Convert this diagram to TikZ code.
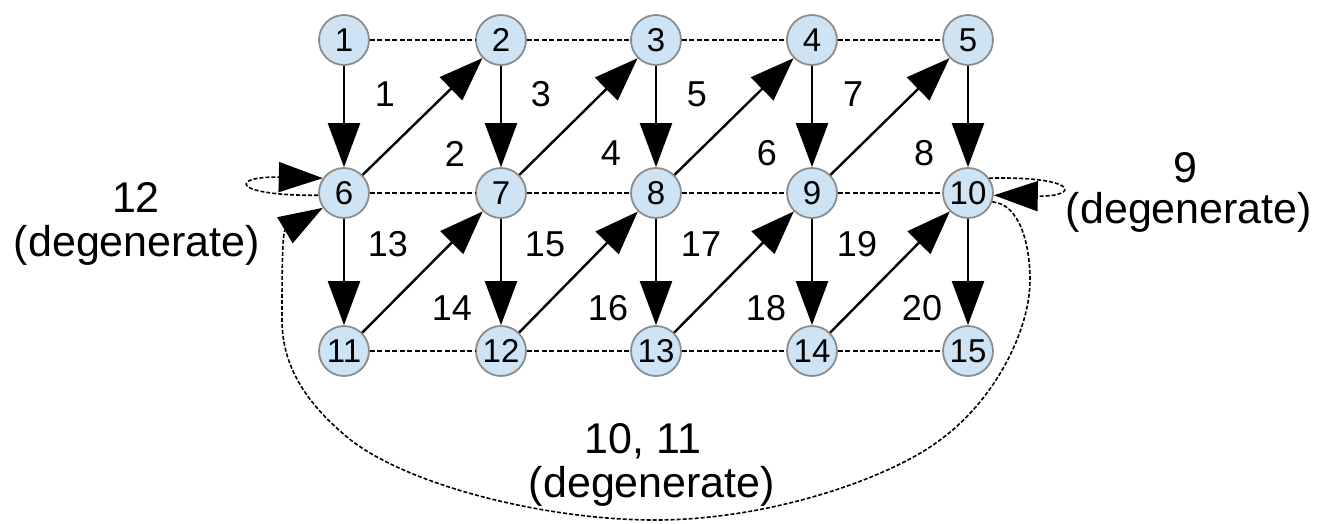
\documentclass[tikz,border=0pt]{standalone}
\usepackage{fontspec}
\setmainfont{Liberation Sans}
\usetikzlibrary{arrows.meta}
\definecolor{nodefill}{RGB}{206,228,244}
\definecolor{nodeline}{RGB}{140,140,140}

\begin{document}
\begin{tikzpicture}[x=1pt,y=-1pt,
  vertex/.style={circle, draw=nodeline, line width=1.8pt, fill=nodefill,
    minimum size=50pt, inner sep=0pt, font=\fontsize{33}{33}\selectfont},
  edgelabel/.style={inner sep=0pt, font=\fontsize{36}{36}\selectfont},
  note/.style={inner sep=0pt, anchor=base, font=\fontsize{43}{43}\selectfont},
  tip/.style={-{Triangle[length=44pt,width=32pt]}},
  flow/.style={tip, line width=2.4pt},
  link/.style={line width=1.6pt, dash pattern=on 5pt off 2.5pt},
  degen/.style={-{Triangle[length=44pt,width=30pt]}, line width=1.6pt, dash pattern=on 4pt off 2pt},
]
\useasboundingbox (0,0) rectangle (1333,523);

% grid of vertices
\foreach \i/\x in {1/344,2/501,3/656,4/812,5/968} {
  \node[vertex] (n\i) at (\x,40) {\i};
}
\foreach \i/\x in {6/344,7/501,8/656,9/812,10/968} {
  \node[vertex] (n\i) at (\x,193) {\i};
}
\foreach \i/\x in {11/344,12/501,13/656,14/812,15/968} {
  \node[vertex] (n\i) at (\x,351) {\i};
}

% dashed row links
\foreach \a/\b in {1/2,2/3,3/4,4/5,6/7,7/8,8/9,9/10,11/12,12/13,13/14,14/15} {
  \draw[link] (n\a) -- (n\b);
}

% vertical edges
\foreach \a/\b in {1/6,2/7,3/8,4/9,5/10,6/11,7/12,8/13,9/14,10/15} {
  \draw[flow] (n\a) -- (n\b);
}

% diagonal edges
\foreach \a/\b in {6/2,7/3,8/4,9/5,11/7,12/8,13/9,14/10} {
  \draw[flow] (n\a) -- (n\b);
}

% edge numbers
\node[edgelabel] (l1) at (385,94) {1};
\node[edgelabel] (l3) at (541,94) {3};
\node[edgelabel] (l5) at (697,94) {5};
\node[edgelabel] (l7) at (853,94) {7};
\node[edgelabel] (l2) at (455,154) {2};
\node[edgelabel] (l4) at (611,153) {4};
\node[edgelabel] (l6) at (767,153) {6};
\node[edgelabel] (l8) at (924,153) {8};
\node[edgelabel] (l13) at (388,244) {13};
\node[edgelabel] (l15) at (545,244) {15};
\node[edgelabel] (l17) at (701,244) {17};
\node[edgelabel] (l19) at (857,244) {19};
\node[edgelabel] (l14) at (452,308) {14};
\node[edgelabel] (l16) at (608,308) {16};
\node[edgelabel] (l18) at (766,308) {18};
\node[edgelabel] (l20) at (922,308) {20};

% degenerate edges
\draw[degen] (n6.185) .. controls (230,196) and (230,176) .. (n6.145);
\draw[degen] (n10.35) .. controls (1080,176) and (1080,197) .. (n10.-5);
\draw[degen] (n10.-20) .. controls (1020,204) and (1030,245) .. (1030,280)
  .. controls (1030,330) and (995,400) .. (940,440)
  .. controls (890,478) and (770,520) .. (655,520)
  .. controls (545,520) and (405,485) .. (347,437)
  .. controls (305,402) and (282,365) .. (282,320)
  .. controls (282,280) and (282,232) .. (n6.215);

% notes on the degenerate edges
\node[note] (d12a) at (136,212) {12};
\node[note] (d12b) at (137,256) {(degenerate)};
\node[note] (d9a) at (1185,182) {9};
\node[note] (d9b) at (1189,223) {(degenerate)};
\node[note] (d10a) at (643,453) {10, 11};
\node[note] (d10b) at (652,497) {(degenerate)};
\end{tikzpicture}
\end{document}
